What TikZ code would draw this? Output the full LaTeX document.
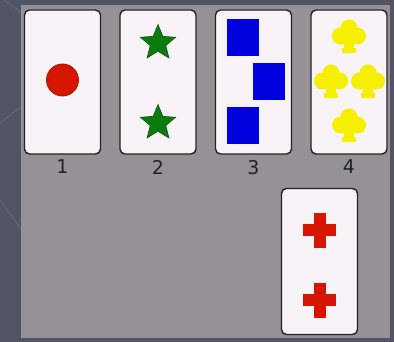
\documentclass[tikz,border=0pt]{standalone}
\usepackage{fontspec}
\newfontfamily\numfont{DejaVu Sans}
\usetikzlibrary{calc,shapes.geometric}
\definecolor{slide}{RGB}{81,84,100}
\definecolor{slideln}{RGB}{104,107,122}
\definecolor{panel}{RGB}{149,145,151}
\definecolor{cardf}{RGB}{247,243,247}
\definecolor{cardb}{RGB}{34,34,38}
\definecolor{redc}{RGB}{214,22,0}
\definecolor{greenc}{RGB}{12,122,12}
\definecolor{bluec}{RGB}{0,0,222}
\definecolor{yelc}{RGB}{246,240,0}
\tikzset{
  card/.style={draw=cardb,fill=cardf,rounded corners=5pt,minimum width=76pt,minimum height=144pt,inner sep=0pt,line width=1.4pt},
  num/.style={font=\numfont\fontsize{19}{19}\selectfont,text=cardb,anchor=north,inner sep=0pt},
  dotpip/.style={circle,fill=redc,draw=redc!80!black,line width=0.8pt,minimum size=32pt,inner sep=0pt},
  starpip/.style={star,star points=5,star point ratio=2.25,fill=greenc,draw=greenc!70!black,line width=0.6pt,minimum size=37pt,inner sep=0pt},
  sqpip/.style={rectangle,fill=bluec,minimum width=32pt,minimum height=37pt,inner sep=0pt},
}
\newcommand{\clubpip}[3]{%
  \begin{scope}[shift={(#2,#3)}]
    \fill[#1] (0,-8) circle (8.5);
    \fill[#1] (-8.5,0) circle (8.5);
    \fill[#1] (8.5,0) circle (8.5);
    \fill[#1] (-7,-8) rectangle (7,6);
    \fill[#1] (-5,0) rectangle (5,15);
    \fill[#1] (-7,12) rectangle (7,17);
  \end{scope}}
\newcommand{\crosspip}[3]{%
  \begin{scope}[shift={(#2,#3)}]
    \fill[#1] (-6,-17.5) rectangle (6,17.5);
    \fill[#1] (-16.5,-6) rectangle (16.5,6);
  \end{scope}}

\begin{document}
\begin{tikzpicture}[x=1pt,y=-1pt]
\useasboundingbox (0,0) rectangle (394,342);
% ---- slide and panel ----
\fill[slide] (0,0) rectangle (394,342);
\draw[slideln,line width=0.8pt] (0,123) -- (21,107);
\draw[slideln,line width=0.8pt] (0,200) -- (21,229);
\draw[slideln,line width=0.8pt] (4,0) -- (21,12);
\fill[panel] (21,5) rectangle (390,338);

% ---- top row ----
\foreach \cx/\lab [count=\i] in {62.5/1,158/2,253.5/3,349/4}{
  \node[card] (card\i) at (\cx,82) {};
  \node[num] (num\i) at ($(card\i.south)+(0,5)$) {\lab};
}
% ---- lower card ----
\node[card,minimum height=146pt] (card5) at (319.5,261.5) {};

% ---- pips ----
\node[dotpip] (dot1) at ($(card1)+(0,-2)$) {};
\node[starpip] (star1) at ($(card2)+(0,-39)$) {};
\node[starpip] (star2) at ($(card2)+(0,41)$) {};
\node[sqpip] (sq1) at ($(card3)+(-10.5,-44.5)$) {};
\node[sqpip] (sq2) at ($(card3)+(15.5,-0.5)$) {};
\node[sqpip] (sq3) at ($(card3)+(-10.5,43.5)$) {};
\foreach \ox/\oy in {0/-46,-18/-1,19/-1,0/43}{
  \clubpip{yelc}{349+\ox}{82+\oy}
}
\crosspip{redc}{319.5}{230.5}
\crosspip{redc}{319.5}{300}
\end{tikzpicture}
\end{document}
